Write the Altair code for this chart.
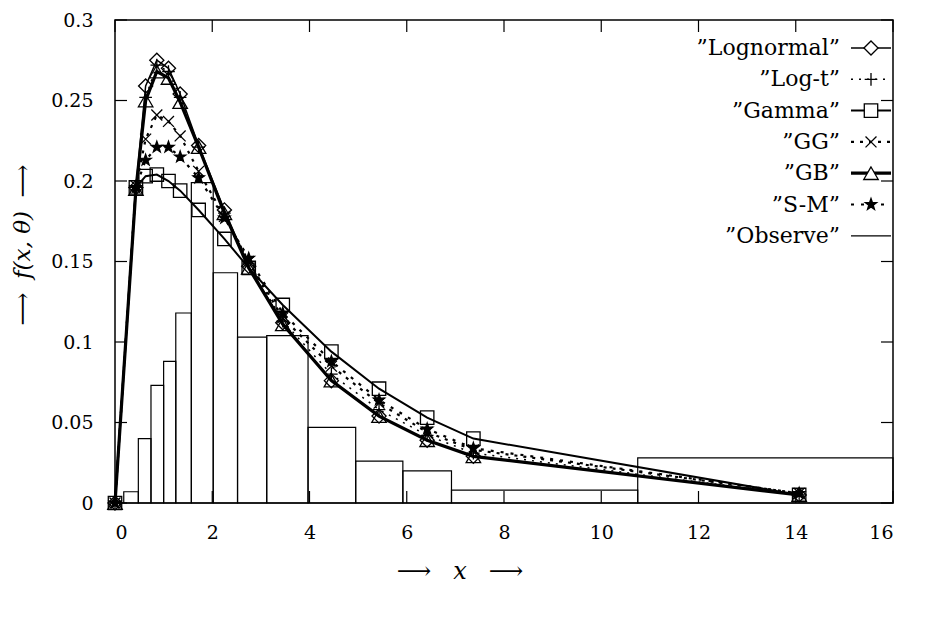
import altair as alt
import pandas as pd

# ---- data ----
X = [0, 0.43, 0.63, 0.86, 1.1, 1.34, 1.72, 2.25, 2.75, 3.45, 4.45, 5.43, 6.42, 7.37, 14.07]
lognormal = [0, 0.196, 0.259, 0.275, 0.270, 0.254, 0.222, 0.182, 0.147, 0.112, 0.076, 0.054, 0.039, 0.029, 0.005]
log_t = [0, 0.196, 0.252, 0.272, 0.268, 0.252, 0.221, 0.180, 0.149, 0.113, 0.080, 0.058, 0.042, 0.031, 0.005]
gamma = [0, 0.196, 0.203, 0.204, 0.200, 0.194, 0.182, 0.164, 0.146, 0.123, 0.094, 0.071, 0.053, 0.040, 0.005]
gg = [0, 0.197, 0.226, 0.241, 0.237, 0.228, 0.206, 0.178, 0.150, 0.115, 0.085, 0.062, 0.044, 0.033, 0.006]
gb = [0, 0.195, 0.250, 0.268, 0.264, 0.249, 0.221, 0.180, 0.146, 0.111, 0.076, 0.054, 0.039, 0.029, 0.005]
sm = [0, 0.196, 0.213, 0.221, 0.221, 0.215, 0.202, 0.177, 0.152, 0.118, 0.088, 0.064, 0.046, 0.034, 0.006]

bin_lo = [0.18, 0.48, 0.74, 1.0, 1.25, 1.57, 2.02, 2.52, 3.12, 3.97, 4.95, 5.92, 6.92, 10.75]
bin_hi = [0.48, 0.74, 1.0, 1.25, 1.57, 2.02, 2.52, 3.12, 3.97, 4.95, 5.92, 6.92, 10.75, 16.0]
observed = [0.007, 0.040, 0.073, 0.088, 0.118, 0.199, 0.143, 0.103, 0.104, 0.047, 0.026, 0.020, 0.008, 0.028]

x_ticks = [0, 2, 4, 6, 8, 10, 12, 14, 16]
y_ticks = [0, 0.05, 0.1, 0.15, 0.2, 0.25, 0.3]

legend_labels = ["\u201dLognormal\u201d", "\u201dLog-t\u201d", "\u201dGamma\u201d", "\u201dGG\u201d",
                 "\u201dGB\u201d", "\u201dS-M\u201d", "\u201dObserve\u201d"]

# ---- styling ----
W, H = 778, 483
TOP = 12
FONT = "DejaVu Serif"
PLUS = "M-1,0L1,0M0,-1L0,1"
XMARK = "M-1,-1L1,1M-1,1L1,-1"
STAR = ("M0,-1L0.235,-0.324L0.951,-0.309L0.380,0.124L0.588,0.809L0,0.4"
        "L-0.588,0.809L-0.380,0.124L-0.951,-0.309L-0.235,-0.324Z")

series = [
    # values, shape, filled, size, line width, dash
    (lognormal, "diamond", False, 200, 1.5, None),
    (log_t, PLUS, False, 160, 1.5, [2, 6]),
    (gamma, "square", False, 180, 2.0, None),
    (gg, XMARK, False, 120, 2.2, [3, 6]),
    (gb, "triangle-up", False, 210, 3.2, None),
    (sm, STAR, True, 140, 2.2, [3, 7]),
]

xs = alt.Scale(domain=[0, 16], nice=False, zero=False)
ys = alt.Scale(domain=[0, 0.3], nice=False, zero=False)
xaxis = alt.Axis(values=x_ticks, ticks=False, domain=False, grid=False, title=None,
                 labelFont=FONT, labelFontSize=19, labelColor="black", labelPadding=20,
                 format="d")
yaxis = alt.Axis(values=y_ticks, ticks=False, domain=False, grid=False, title=None,
                 labelFont=FONT, labelFontSize=19, labelColor="black", labelPadding=22,
                 format=".2~f")

layers = []

hist_df = pd.DataFrame({"lo": bin_lo, "hi": bin_hi, "h": observed})
layers.append(
    alt.Chart(hist_df).mark_rect(filled=False, stroke="black", strokeWidth=1.2).encode(
        x=alt.X("lo:Q", scale=xs, axis=xaxis),
        x2="hi:Q",
        y=alt.Y("h:Q", scale=ys, axis=yaxis),
        y2=alt.datum(0),
    )
)

for vals, shape, filled, size, lw, dash in series:
    df = pd.DataFrame({"x": X, "y": vals})
    lk = dict(color="black", strokeWidth=lw)
    if dash:
        lk["strokeDash"] = dash
    layers.append(
        alt.Chart(df).mark_line(**lk).encode(
            x=alt.X("x:Q", scale=xs, axis=xaxis), y=alt.Y("y:Q", scale=ys, axis=yaxis)
        )
    )
    pk = dict(shape=shape, size=size, stroke="black", strokeWidth=1.3, opacity=1)
    if filled:
        pk.update(filled=True, fill="black")
    else:
        pk.update(filled=False)
    layers.append(
        alt.Chart(df).mark_point(**pk).encode(
            x=alt.X("x:Q", scale=xs, axis=xaxis), y=alt.Y("y:Q", scale=ys, axis=yaxis)
        )
    )

# inward ticks on all four sides
ydf = pd.DataFrame({"v": y_ticks})
xdf = pd.DataFrame({"v": x_ticks})
for a, b in [(0, 12), (W - 12, W)]:
    layers.append(alt.Chart(ydf).mark_rule(color="black", strokeWidth=1.2).encode(
        y=alt.Y("v:Q", scale=ys, axis=yaxis), x=alt.value(a), x2=alt.value(b)))
for a, b in [(H, H - 12), (0, 12)]:
    layers.append(alt.Chart(xdf).mark_rule(color="black", strokeWidth=1.2).encode(
        x=alt.X("v:Q", scale=xs, axis=xaxis), y=alt.value(a), y2=alt.value(b)))

# legend (key inside top right, labels left of samples)
leg_styles = [(s[1], s[2], s[3], s[4], s[5]) for s in series] + [(None, False, 0, 1.2, None)]
for i, (lab, (shape, filled, size, lw, dash)) in enumerate(zip(legend_labels, leg_styles)):
    yy = 48 - 8 - TOP + i * 31.3
    ldf = pd.DataFrame({"t": [lab]})
    layers.append(alt.Chart(ldf).mark_text(align="right", baseline="middle", font=FONT,
                                           fontSize=22, color="black").encode(
        text="t:N", x=alt.value(725), y=alt.value(yy)))
    rk = dict(color="black", strokeWidth=lw)
    if dash:
        rk["strokeDash"] = dash
    layers.append(alt.Chart(ldf).mark_rule(**rk).encode(
        x=alt.value(736), x2=alt.value(776), y=alt.value(yy)))
    if shape:
        pk = dict(shape=shape, size=size, stroke="black", strokeWidth=1.3, opacity=1)
        if filled:
            pk.update(filled=True, fill="black")
        else:
            pk.update(filled=False, fill="white")
        layers.append(alt.Chart(ldf).mark_point(**pk).encode(
            x=alt.value(756), y=alt.value(yy)))

# axis titles (arrows upright, variables italic)
for txt, dx, style in [("\u27f6", -46, "normal"), ("x", 0, "italic"), ("\u27f6", 46, "normal")]:
    layers.append(alt.Chart(pd.DataFrame({"t": [txt]})).mark_text(
        align="center", baseline="middle", font=FONT, fontSize=24, fontStyle=style,
        color="black").encode(text="t:N", x=alt.value(345 + dx), y=alt.value(572 - 8 - TOP)))
for txt, dy, style in [("\u27f6", 64, "normal"), ("f(x, \u03b8)", 0, "italic"), ("\u27f6", -64, "normal")]:
    layers.append(alt.Chart(pd.DataFrame({"t": [txt]})).mark_text(
        align="center", baseline="middle", font=FONT, fontSize=23, fontStyle=style,
        angle=270, color="black").encode(text="t:N", x=alt.value(-92), y=alt.value(245 - 8 - TOP + dy)))

chart = alt.layer(*layers).properties(
    width=W, height=H,
    autosize=alt.AutoSizeParams(type="none"),
    padding={"left": 107, "top": TOP, "right": 30, "bottom": 100},
    background="white",
).configure_view(stroke="black", strokeWidth=1.5)

chart.save("out.html", embed_options={"renderer": "svg", "actions": False})
